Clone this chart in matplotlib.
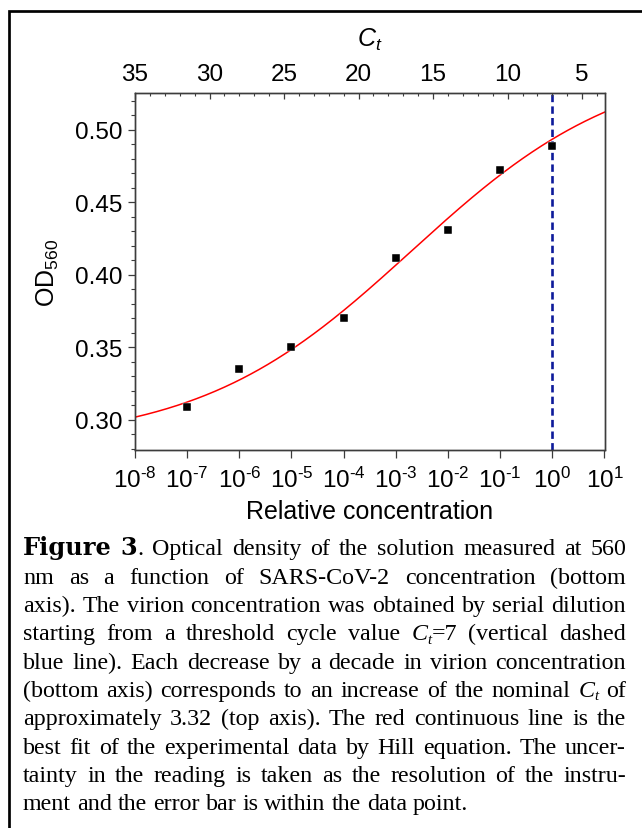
import numpy as np
import matplotlib
matplotlib.use('Agg')
import matplotlib.pyplot as plt
from matplotlib.ticker import FixedLocator, FuncFormatter, NullLocator, MultipleLocator
from matplotlib.patches import Rectangle
from matplotlib.font_manager import FontProperties
from matplotlib.transforms import IdentityTransform

plt.rcParams['font.family'] = ['Liberation Sans', 'DejaVu Sans']
plt.rcParams['mathtext.fontset'] = 'custom'
plt.rcParams['mathtext.rm'] = 'Liberation Sans'
plt.rcParams['mathtext.it'] = 'Liberation Sans:italic'
plt.rcParams['mathtext.bf'] = 'Liberation Sans:bold'

# ---------------- data ----------------
concentration = [1e-7, 1e-6, 1e-5, 1e-4, 1e-3, 1e-2, 1e-1, 1e0]
od560 = [0.309, 0.335, 0.350, 0.370, 0.412, 0.431, 0.472, 0.489]

# Hill-equation fit parameters
hill_bottom = 0.2835
hill_top = 0.5495
hill_log_k = -2.7
hill_n = 0.2128

threshold_conc = 1.0          # vertical dashed line (Ct = 7)
ct_at_unit = 7.0
ct_per_decade = 3.5

x_tick_exponents = [-8, -7, -6, -5, -4, -3, -2, -1, 0, 1]
ct_ticks = [35, 30, 25, 20, 15, 10, 5]
od_ticks = [0.30, 0.35, 0.40, 0.45, 0.50]

caption_lines = [
    "Figure 3. Optical density of the solution measured at 560",
    "nm as a function of SARS-CoV-2 concentration (bottom",
    "axis). The virion concentration was obtained by serial dilution",
    "starting from a threshold cycle value {Ct}=7 (vertical dashed",
    "blue line). Each decrease by a decade in virion concentration",
    "(bottom axis) corresponds to an increase of the nominal {Ct} of",
    "approximately 3.32 (top axis). The red continuous line is the",
    "best fit of the experimental data by Hill equation. The uncer-",
    "tainty in the reading is taken as the resolution of the instru-",
    "ment and the error bar is within the data point.",
]

# ---------------- figure ----------------
W, H = 642, 829
fig = plt.figure(figsize=(W / 100, H / 100), dpi=100)

ax_l, ax_r, ax_t, ax_b = 135, 604.5, 94, 451
ax = fig.add_axes([ax_l / W, 1 - ax_b / H, (ax_r - ax_l) / W, (ax_b - ax_t) / H])

spine_c = '#3c3c3c'
tick_fs = 17.5
label_fs = 18

xmin, xmax = 10.0 ** x_tick_exponents[0], 10.0 ** x_tick_exponents[-1]
ax.set_xscale('log')
ax.set_xlim(xmin, xmax)
ax.set_ylim(0.2793, 0.5254)

# Hill curve
xc = np.logspace(np.log10(xmin), np.log10(xmax), 500)
yc = hill_bottom + (hill_top - hill_bottom) / (1 + 10 ** (hill_n * (hill_log_k - np.log10(xc))))
ax.plot(xc, yc, color='#ff0000', lw=1.1, zorder=2)

ax.axvline(threshold_conc, color='#0d1a9a', lw=1.9, ls=(0, (2.8, 1.6)), zorder=2)

ax.plot(concentration, od560, ls='none', marker='s', ms=6.0, color='black',
        mec='white', mew=0.3, zorder=3)

for s in ax.spines.values():
    s.set_color(spine_c)
    s.set_linewidth(1.0)

ax.xaxis.set_major_locator(FixedLocator([10.0 ** e for e in x_tick_exponents]))
ax.xaxis.set_minor_locator(NullLocator())
ax.xaxis.set_major_formatter(FuncFormatter(
    lambda v, p: r'$\mathregular{10^{%s}}$' %
    str(int(round(np.log10(v)))).replace('-', '\u2010')))
ax.yaxis.set_major_locator(FixedLocator(od_ticks))
ax.yaxis.set_minor_locator(MultipleLocator(0.01))
ax.yaxis.set_major_formatter(FuncFormatter(lambda v, p: '%.2f' % v))

ax.tick_params(axis='x', which='major', direction='out', length=5.8, width=0.9,
               color=spine_c, labelsize=tick_fs, pad=6, top=False)
ax.tick_params(axis='y', which='major', direction='out', length=5.0, width=0.9,
               color=spine_c, labelsize=tick_fs, pad=4, right=False)
ax.tick_params(axis='y', which='minor', direction='out', length=2.6, width=0.8,
               color=spine_c, right=False)

ax.set_xlabel('Relative concentration', fontsize=label_fs)
ax.xaxis.set_label_coords(0.5, (ax_b - 512) / (ax_b - ax_t))
ax.xaxis.label.set_va('center')
ax.set_ylabel('OD$_{560}$', fontsize=label_fs)
ax.yaxis.set_label_coords((48 - ax_l) / (ax_r - ax_l), 0.5)
ax.yaxis.label.set_va('center')

# top Ct axis (linear in log10 concentration)
ax2 = ax.twiny()
ax2.set_xlim(ct_at_unit - ct_per_decade * np.log10(xmin),
             ct_at_unit - ct_per_decade * np.log10(xmax))
ax2.xaxis.set_major_locator(FixedLocator(ct_ticks))
ax2.xaxis.set_minor_locator(MultipleLocator(1))
ax2.xaxis.set_major_formatter(FuncFormatter(lambda v, p: '%d' % v))
ax2.tick_params(axis='x', which='major', direction='in', length=4.3, width=0.9,
                color=spine_c, labelsize=tick_fs, pad=6)
ax2.tick_params(axis='x', which='minor', direction='in', length=2.2, width=0.8,
                color=spine_c)
for s in ax2.spines.values():
    s.set_color(spine_c)
    s.set_linewidth(1.0)
ax2.set_xlabel('$C_t$', fontsize=label_fs)
ax2.xaxis.set_label_coords(0.5, (ax_b - 40) / (ax_b - ax_t))
ax2.xaxis.label.set_va('center')

# frame around figure
fig.add_artist(Rectangle((8.7 / W, -0.1), 2.0, 1 - 12 / H + 0.1,
                         transform=fig.transFigure, fill=False,
                         lw=1.95, ec='black'))

# ---------------- caption (justified) ----------------
renderer = fig.canvas.get_renderer()
cap_size = 17.3
fp_reg = FontProperties(family='Liberation Serif', size=cap_size)
fp_it = FontProperties(family='Liberation Serif', style='italic', size=cap_size)
fp_sub = FontProperties(family='Liberation Serif', style='italic', size=cap_size * 0.62)
fp_bold = FontProperties(family='DejaVu Serif', weight='bold', size=17.3)

X0, X1 = 23, 626
base0, lead = 555.5, 28.3


def word_runs(word, bold):
    if bold:
        if word.endswith('.'):
            return [(word[:-1], fp_bold, 0), ('.', fp_reg, 0)]
        return [(word, fp_bold, 0)]
    runs = []
    parts = word.split('{Ct}')
    for i, part in enumerate(parts):
        if i > 0:
            runs.append(('C', fp_it, 0))
            runs.append(('t', fp_sub, -3.5))
        if part:
            runs.append((part, fp_reg, 0))
    return runs


def run_width(text, fp):
    t = fig.text(0, 0, text, fontproperties=fp, transform=IdentityTransform())
    w = t.get_window_extent(renderer).width
    t.remove()
    return w


space_w = run_width('a a', fp_reg) - run_width('aa', fp_reg)

for li, line in enumerate(caption_lines):
    words = line.split(' ')
    wruns = [word_runs(w, li == 0 and wi < 2) for wi, w in enumerate(words)]
    widths = [[run_width(t, fp) for (t, fp, dy) in r] for r in wruns]
    totals = [sum(ws) for ws in widths]
    if li < len(caption_lines) - 1:
        gap = (X1 - X0 - sum(totals)) / (len(words) - 1)
    else:
        gap = space_w
    x = X0
    yb = H - (base0 + li * lead)
    for r, ws in zip(wruns, widths):
        for (t, fp, dy), w in zip(r, ws):
            fig.text(x, yb + dy, t, fontproperties=fp, transform=IdentityTransform(),
                     ha='left', va='baseline', color='black')
            x += w
        x += gap

fig.savefig('out.png', dpi=100)
